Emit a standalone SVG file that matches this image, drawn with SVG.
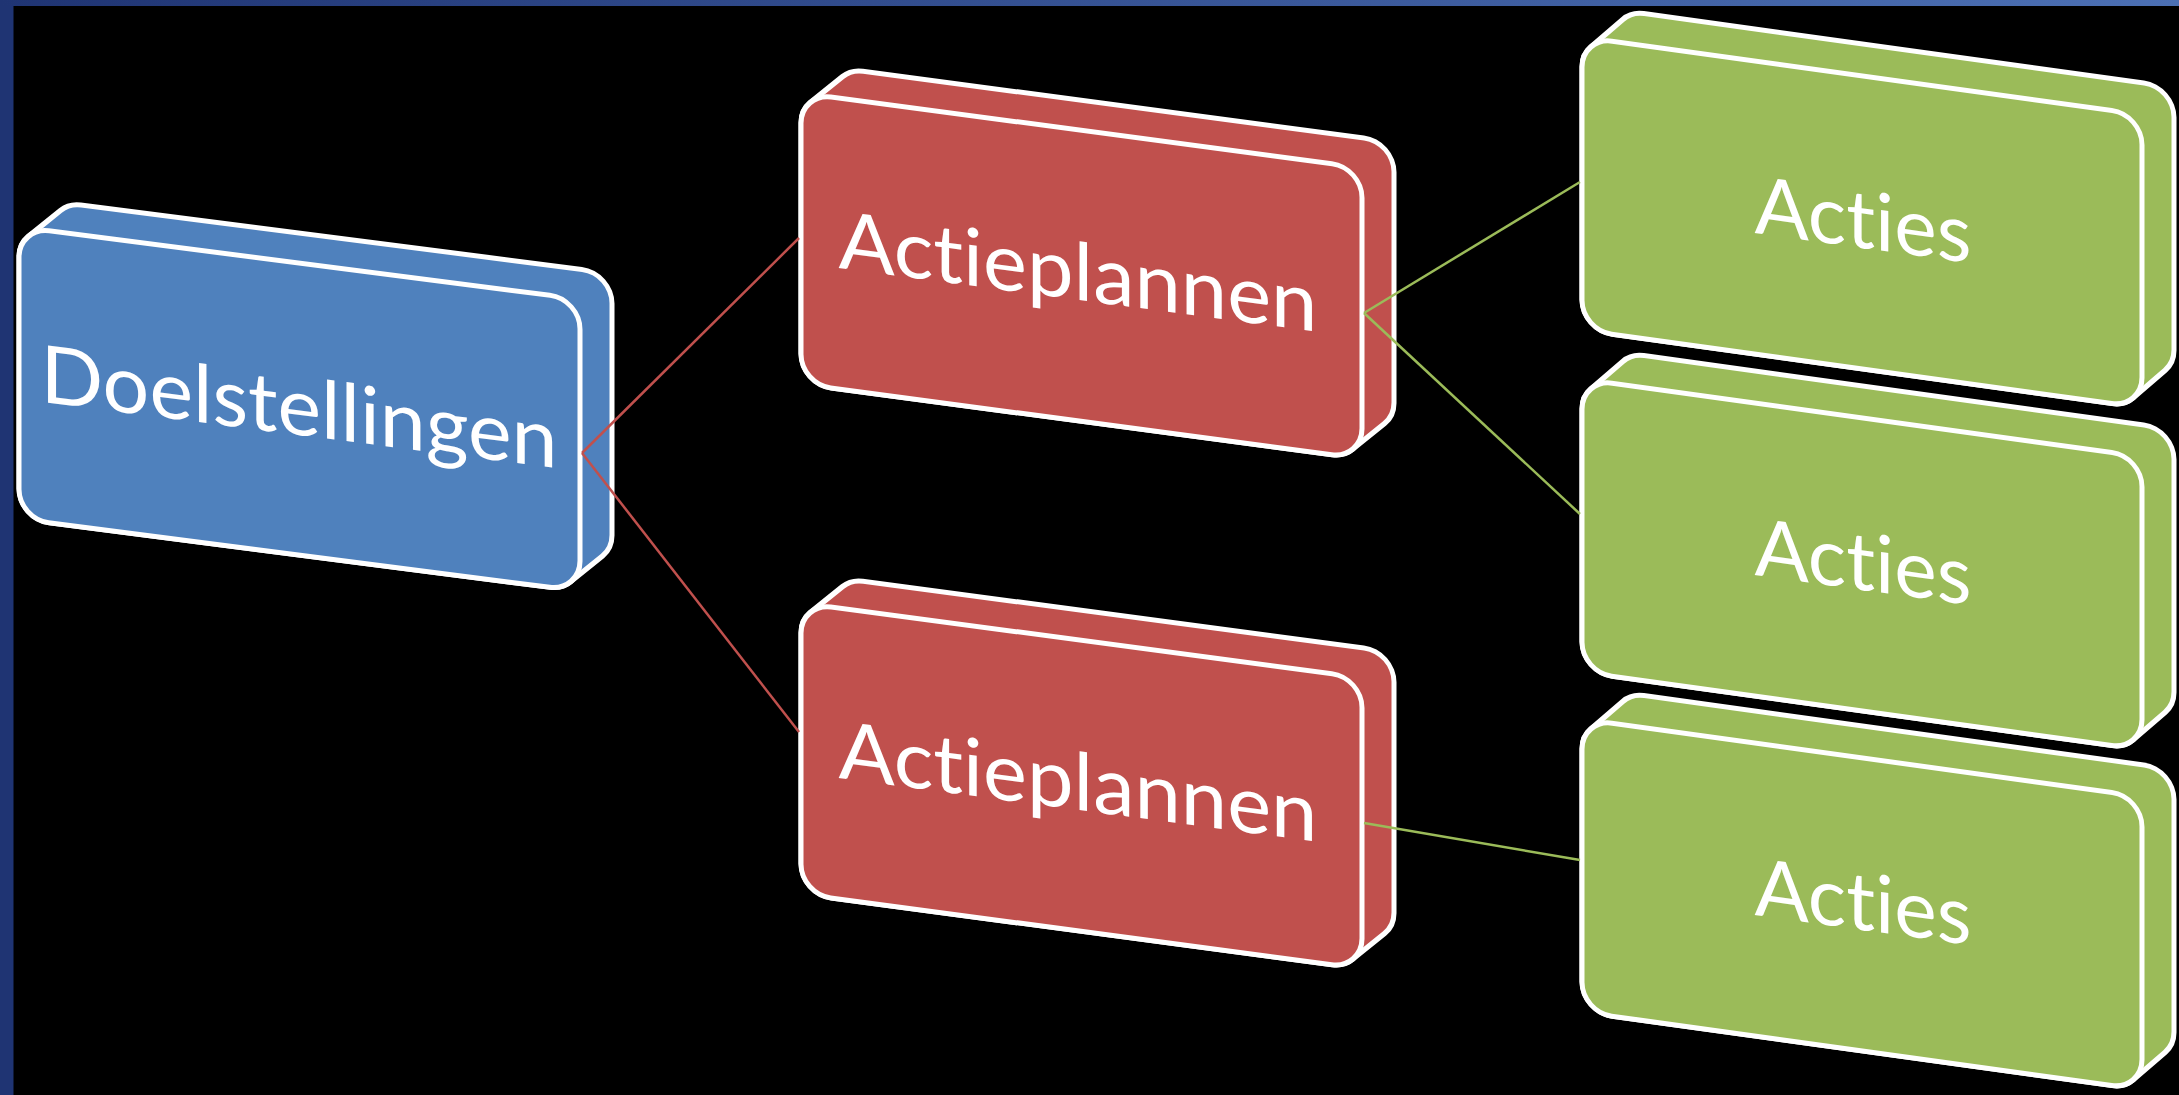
<svg xmlns="http://www.w3.org/2000/svg" width="2179" height="1095" viewBox="0 0 2179 1095">
  <defs>
    <linearGradient id="topbar" x1="0" y1="0" x2="1" y2="0">
      <stop offset="0" stop-color="#1f3473"/>
      <stop offset="1" stop-color="#4c70b4"/>
    </linearGradient>
  </defs>
  <style>
    .silw { fill: #ffffff; stroke: #ffffff; stroke-width: 65; stroke-linejoin: round; }
    .blue .silc, .blue .front { fill: #4f81bd; }
    .red .silc, .red .front { fill: #c0504d; }
    .green .silc, .green .front { fill: #9bbb59; }
    .blue .silc { stroke: #4f81bd; }
    .red .silc { stroke: #c0504d; }
    .green .silc { stroke: #9bbb59; }
    .silc { stroke-width: 55; stroke-linejoin: round; }
    .front { stroke: #ffffff; stroke-width: 5; }
    .lbl { font-family: Lato, "Open Sans", "Liberation Sans", sans-serif; font-size: 80px; fill: #ffffff; text-anchor: middle; font-variant-ligatures: none; font-feature-settings: "liga" 0, "clig" 0; }
    .c-red { stroke: #c0504d; stroke-width: 2.5; fill: none; }
    .c-green { stroke: #9bbb59; stroke-width: 2.5; fill: none; }
  </style>

  <rect x="0" y="0" width="2179" height="1095" fill="#000000"/>
  <rect x="0" y="0" width="13.5" height="1095" fill="#1f3473"/>
  <rect x="0" y="0" width="2179" height="6" fill="url(#topbar)"/>

  <g id="node-doelstellingen" class="blue" transform="translate(19,227) skewY(7.33)">
    <path class="silw" d="M30,30 L62,0 L563,0 L563,232 L531,262 L30,262 Z"/>
    <path class="silc" d="M30,30 L62,0 L563,0 L563,232 L531,262 L30,262 Z"/>
    <rect class="front" x="0" y="0" width="561" height="292" rx="30"/>
    <text class="lbl" x="280" y="172" textLength="517" lengthAdjust="spacingAndGlyphs">Doelstellingen</text>
  </g>

  <g id="node-actieplannen-1" class="red" transform="translate(801,93) skewY(7.58)">
    <path class="silw" d="M30,30 L62,0 L563,0 L563,231 L531,261 L30,261 Z"/>
    <path class="silc" d="M30,30 L62,0 L563,0 L563,231 L531,261 L30,261 Z"/>
    <rect class="front" x="0" y="0" width="561" height="291" rx="30"/>
    <text class="lbl" x="277" y="170" textLength="479" lengthAdjust="spacingAndGlyphs">Actieplannen</text>
  </g>

  <g id="node-actieplannen-2" class="red" transform="translate(801,603) skewY(7.58)">
    <path class="silw" d="M30,30 L62,0 L563,0 L563,231 L531,261 L30,261 Z"/>
    <path class="silc" d="M30,30 L62,0 L563,0 L563,231 L531,261 L30,261 Z"/>
    <rect class="front" x="0" y="0" width="561" height="291" rx="30"/>
    <text class="lbl" x="277" y="170" textLength="479" lengthAdjust="spacingAndGlyphs">Actieplannen</text>
  </g>

  <g id="node-acties-1" class="green" transform="translate(1582,37) skewY(7.9)">
    <path class="silw" d="M30,30 L62,-2 L562,-2 L562,231 L530,263 L30,263 Z"/>
    <path class="silc" d="M30,30 L62,-2 L562,-2 L562,231 L530,263 L30,263 Z"/>
    <rect class="front" x="0" y="0" width="560" height="293" rx="30"/>
    <text class="lbl" x="281" y="172" textLength="217" lengthAdjust="spacingAndGlyphs">Acties</text>
  </g>

  <g id="node-acties-2" class="green" transform="translate(1582,379) skewY(7.9)">
    <path class="silw" d="M30,30 L62,-2 L562,-2 L562,231 L530,263 L30,263 Z"/>
    <path class="silc" d="M30,30 L62,-2 L562,-2 L562,231 L530,263 L30,263 Z"/>
    <rect class="front" x="0" y="0" width="560" height="293" rx="30"/>
    <text class="lbl" x="281" y="172" textLength="217" lengthAdjust="spacingAndGlyphs">Acties</text>
  </g>

  <g id="node-acties-3" class="green" transform="translate(1582,719) skewY(7.9)">
    <path class="silw" d="M30,30 L62,-2 L562,-2 L562,231 L530,263 L30,263 Z"/>
    <path class="silc" d="M30,30 L62,-2 L562,-2 L562,231 L530,263 L30,263 Z"/>
    <rect class="front" x="0" y="0" width="560" height="293" rx="30"/>
    <text class="lbl" x="281" y="172" textLength="217" lengthAdjust="spacingAndGlyphs">Acties</text>
  </g>

  <g id="connectors">
    <path class="c-red" d="M582,453 L799,238"/>
    <path class="c-red" d="M582,453 L799,732"/>
    <path class="c-green" d="M1364,313 L1580,182"/>
    <path class="c-green" d="M1364,313 L1580,514"/>
    <path class="c-green" d="M1364,823 L1580,860"/>
  </g>
</svg>
